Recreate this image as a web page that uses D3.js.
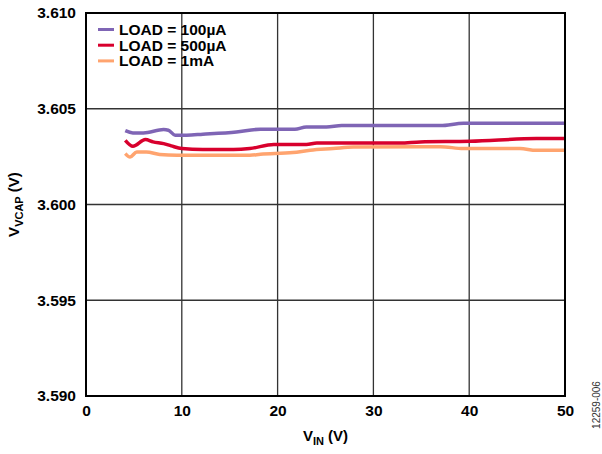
<!DOCTYPE html>
<html>
<head>
<meta charset="utf-8">
<script src="https://cdn.jsdelivr.net/npm/d3@7"></script>
<style>
  body { margin: 0; background: #fff; }
  svg text { font-family: Arial, "Liberation Sans", sans-serif; }
</style>
</head>
<body>
<div id="chart"></div>
<script>
// Series data (VIN in volts, VVCAP in volts)
const vin100u = [4.1, 4.9, 6.0, 8.1, 8.6, 9.3, 10.5, 12.2, 15.7, 18.2, 21.8, 23.0, 25.1, 26.7, 37.0, 39.4, 50];
const vcap100u = [3.60386, 3.60374, 3.60374, 3.60391, 3.60388, 3.60362, 3.60362, 3.60367, 3.60379, 3.60393, 3.60393, 3.60405, 3.60405, 3.60412, 3.60412, 3.60424, 3.60424];

const vin500u = [4.1, 4.9, 6.2, 7.0, 8.1, 8.9, 10.0, 12.2, 15.4, 17.1, 19.6, 23.0, 24.1, 32.8, 34.9, 40.1, 47.0, 50];
const vcap500u = [3.60335, 3.60304, 3.60339, 3.60327, 3.60318, 3.60306, 3.60292, 3.60287, 3.60287, 3.60292, 3.60313, 3.60313, 3.60321, 3.60321, 3.60327, 3.60330, 3.60344, 3.60344];

const vin1m = [4.1, 4.6, 5.3, 6.3, 7.7, 9.5, 17.1, 18.2, 21.6, 23.4, 25.8, 27.9, 34.9, 37.0, 39.4, 45.3, 47.0, 50];
const vcap1m = [3.60266, 3.60248, 3.60274, 3.60274, 3.60261, 3.60257, 3.60257, 3.60262, 3.60271, 3.60283, 3.60292, 3.60300, 3.60302, 3.60302, 3.60292, 3.60292, 3.60283, 3.60283];

const seriesNames = ["LOAD = 100µA", "LOAD = 500µA", "LOAD = 1mA"];
const seriesColors = ["#7f65b5", "#d8002d", "#ffa46f"];

const xTicks = [0, 10, 20, 30, 40, 50];
const yTicks = [3.590, 3.595, 3.600, 3.605, 3.610];

const margin = {top: 13, right: 37, bottom: 58, left: 86},
    width = 602 - margin.left - margin.right,
    height = 454 - margin.top - margin.bottom;

const svg = d3.select("#chart")
  .append("svg")
    .attr("width", 602)
    .attr("height", 454);

const g = svg.append("g")
    .attr("transform", `translate(${margin.left},${margin.top})`);

const x = d3.scaleLinear().domain([0, 50]).range([0, width]);
const y = d3.scaleLinear().domain([3.590, 3.610]).range([height, 0]);

// Grid lines
g.append("g")
  .selectAll("line.vgrid")
  .data(xTicks.slice(1, -1))
  .join("line")
    .attr("x1", d => x(d)).attr("x2", d => x(d))
    .attr("y1", 0).attr("y2", height)
    .attr("stroke", "#333").attr("stroke-width", 1.3);

g.append("g")
  .selectAll("line.hgrid")
  .data(yTicks.slice(1, -1))
  .join("line")
    .attr("x1", 0).attr("x2", width)
    .attr("y1", d => y(d)).attr("y2", d => y(d))
    .attr("stroke", "#333").attr("stroke-width", 1.3);

// Axes (labels only, no tick marks)
const xAxis = g.append("g")
    .attr("transform", `translate(0,${height})`)
    .call(d3.axisBottom(x).tickValues(xTicks).tickSize(0).tickPadding(9));
xAxis.select(".domain").remove();
xAxis.selectAll("text")
    .attr("font-size", "15.5px").attr("font-weight", "bold").attr("fill", "#000")
    .style("font-family", "Arial, 'Liberation Sans', sans-serif");

const yAxis = g.append("g")
    .call(d3.axisLeft(y).tickValues(yTicks).tickFormat(d3.format(".3f")).tickSize(0).tickPadding(10));
yAxis.select(".domain").remove();
yAxis.selectAll("text")
    .attr("font-size", "15.5px").attr("font-weight", "bold").attr("fill", "#000")
    .style("font-family", "Arial, 'Liberation Sans', sans-serif");

// Data lines
const series = [
  {x: vin100u, y: vcap100u},
  {x: vin500u, y: vcap500u},
  {x: vin1m, y: vcap1m}
];
const line = d3.line().x(d => x(d[0])).y(d => y(d[1])).curve(d3.curveMonotoneX);

series.slice().reverse().forEach((s, i) => {
  const idx = series.length - 1 - i;
  g.append("path")
    .datum(d3.zip(s.x, s.y))
    .attr("fill", "none")
    .attr("stroke", seriesColors[idx])
    .attr("stroke-width", 3.5)
    .attr("stroke-linejoin", "round")
    .attr("d", line);
});

// Frame
g.append("rect")
    .attr("x", 0).attr("y", 0)
    .attr("width", width).attr("height", height)
    .attr("fill", "none").attr("stroke", "#000").attr("stroke-width", 2);

// Legend
const legend = g.selectAll(".legend")
  .data(seriesNames)
  .join("g")
    .attr("class", "legend")
    .attr("transform", (d, i) => `translate(12, ${16.5 + i * 15.7})`);

legend.append("line")
    .attr("x1", 0).attr("x2", 16)
    .attr("stroke", (d, i) => seriesColors[i])
    .attr("stroke-width", 3);

legend.append("text")
    .attr("x", 21)
    .attr("dy", "0.36em")
    .attr("font-size", "15.5px")
    .attr("font-weight", "bold")
    .text(d => d);

// Y axis title
const yTitle = svg.append("text")
    .attr("transform", `translate(19, ${margin.top + height / 2}) rotate(-90)`)
    .attr("text-anchor", "middle")
    .attr("font-size", "15px")
    .attr("font-weight", "bold");
yTitle.append("tspan").text("V");
yTitle.append("tspan").attr("font-size", "11px").attr("dy", 4).text("VCAP");
yTitle.append("tspan").attr("dy", -4).text(" (V)");

// X axis title
const xTitle = svg.append("text")
    .attr("x", margin.left + width / 2)
    .attr("y", 441)
    .attr("text-anchor", "middle")
    .attr("font-size", "15px")
    .attr("font-weight", "bold");
xTitle.append("tspan").text("V");
xTitle.append("tspan").attr("font-size", "11px").attr("dy", 4).text("IN");
xTitle.append("tspan").attr("dy", -4).text(" (V)");

// Figure code
svg.append("text")
    .attr("transform", "translate(600, 405) rotate(-90)")
    .attr("text-anchor", "middle")
    .attr("font-size", "10px")
    .attr("fill", "#333")
    .text("12259-006");
</script>
</body>
</html>
